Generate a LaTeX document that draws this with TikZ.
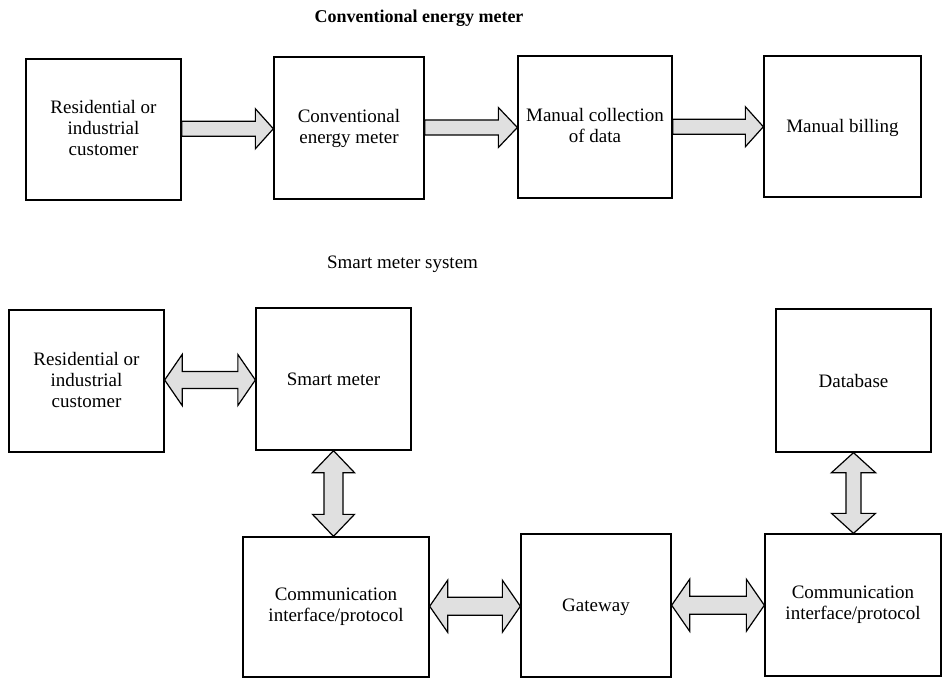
\documentclass[tikz,border=0pt]{standalone}
\usepackage{fontspec}
\setmainfont{Liberation Serif}
\usetikzlibrary{calc}
\newcommand\mystrut{\rule[-3pt]{0pt}{19pt}}
% single arrow to the right: #1 from, #2 to, #3 shaft half width, #4 head half width, #5 head length
\newcommand\rarrow[5]{\draw[arr] let \p1=(#1), \p2=(#2), \p3=($(#1)!.5!(#2)$) in
 (\x1,{\y3+#3pt}) -- ({\x2-#5pt},{\y3+#3pt}) -- ({\x2-#5pt},{\y3+#4pt}) -- (\x2,\y3)
 -- ({\x2-#5pt},{\y3-#4pt}) -- ({\x2-#5pt},{\y3-#3pt}) -- (\x1,{\y3-#3pt}) -- cycle;}
% double horizontal arrow
\newcommand\hdarrow[5]{\draw[arr] let \p1=(#1), \p2=(#2), \p3=($(#1)!.5!(#2)$) in
 (\x1,\y3) -- ({\x1+#5pt},{\y3+#4pt}) -- ({\x1+#5pt},{\y3+#3pt}) -- ({\x2-#5pt},{\y3+#3pt})
 -- ({\x2-#5pt},{\y3+#4pt}) -- (\x2,\y3) -- ({\x2-#5pt},{\y3-#4pt}) -- ({\x2-#5pt},{\y3-#3pt})
 -- ({\x1+#5pt},{\y3-#3pt}) -- ({\x1+#5pt},{\y3-#4pt}) -- cycle;}
% double vertical arrow: #1 upper anchor, #2 lower anchor
\newcommand\vdarrow[5]{\draw[arr] let \p1=(#1), \p2=(#2) in
 (\x1,\y1) -- ({\x1+#4pt},{\y1-#5pt}) -- ({\x1+#3pt},{\y1-#5pt}) -- ({\x1+#3pt},{\y2+#5pt})
 -- ({\x1+#4pt},{\y2+#5pt}) -- (\x1,\y2) -- ({\x1-#4pt},{\y2+#5pt}) -- ({\x1-#3pt},{\y2+#5pt})
 -- ({\x1-#3pt},{\y1-#5pt}) -- ({\x1-#4pt},{\y1-#5pt}) -- cycle;}
\begin{document}
\begin{tikzpicture}[x=1pt,y=1pt,
  box/.style={draw=black, line width=1.3pt, rectangle, align=center, inner sep=0pt,
    font=\fontsize{19}{21}\selectfont,
    execute at begin node=\mystrut, execute at end node=\mystrut},
  arr/.style={draw=black, line width=1.2pt, fill=black!12, line join=miter},
  ttl/.style={anchor=base, inner sep=0pt}]
\useasboundingbox (0,0) rectangle (943,-679);
% titles
\node[ttl, font=\fontsize{18}{21}\selectfont\bfseries] (t1) at (419,-23) {Conventional energy meter};
\node[ttl, font=\fontsize{19}{21}\selectfont] (t2) at (402.5,-269) {Smart meter system};
% top row
\node[box, minimum width=155pt, minimum height=141pt] (A) at (103.5,-129.5) {Residential or\\industrial\\customer};
\node[box, minimum width=150pt, minimum height=142pt] (B) at (349,-128) {Conventional\\energy meter};
\node[box, minimum width=154pt, minimum height=142pt] (C) at (595,-127) {Manual collection\\of data};
\node[box, minimum width=157pt, minimum height=141pt] (D) at (842.5,-126.5) {Manual billing};
% bottom
\node[box, minimum width=155pt, minimum height=142pt] (E) at (86.5,-381) {Residential or\\industrial\\customer};
\node[box, minimum width=155pt, minimum height=142pt] (F) at (333.5,-379) {Smart meter};
\node[box, minimum width=155pt, minimum height=143pt] (J) at (853.5,-380.5) {Database};
\node[box, minimum width=186pt, minimum height=140pt] (G) at (336,-607) {Communication\\interface/protocol};
\node[box, minimum width=150pt, minimum height=143pt] (H) at (596,-605.5) {Gateway};
\node[box, minimum width=176pt, minimum height=142pt] (I) at (853,-605) {Communication\\interface/protocol};
% arrows
\rarrow{A.east}{B.west}{7.5}{20}{18}
\rarrow{B.east}{C.west}{7.5}{20}{19}
\rarrow{C.east}{D.west}{7.5}{20}{18}
\hdarrow{E.east}{F.west}{8.5}{25.5}{17.5}
\hdarrow{G.east}{H.west}{9}{26}{18}
\hdarrow{H.east}{I.west}{9}{26}{18}
\vdarrow{F.south}{G.north}{9.5}{21}{22}
\vdarrow{J.south}{I.north}{7.5}{22}{20}
\end{tikzpicture}
\end{document}
